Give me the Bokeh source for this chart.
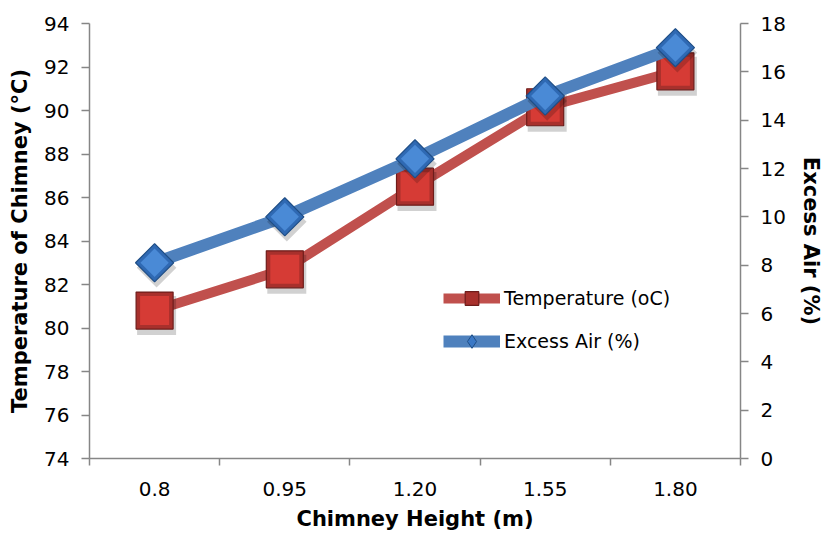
import numpy as np
from bokeh.plotting import figure
from bokeh.models import (Range1d, LinearAxis, FixedTicker, Legend, LegendItem,
                          ColumnDataSource)
from bokeh.embed import file_html
from bokeh.resources import INLINE

# Chimney height categories and measured series
categories = ["0.8", "0.95", "1.20", "1.55", "1.80"]
temperature = [80.8, 82.7, 86.5, 90.15, 91.8]      # °C, left axis
excess_air = [8.1, 10.0, 12.4, 15.0, 17.0]          # %, right axis
temp_ticks = list(range(74, 95, 2))
air_ticks = list(range(0, 19, 2))

FONT = "DejaVu Sans"
AXIS_GREY = "#868686"

W, H = 825, 533
p = figure(width=W, height=H, output_backend="svg", toolbar_location=None,
           x_range=Range1d(0, len(categories)), y_range=Range1d(74, 94),
           min_border_left=89, min_border_right=82, min_border_top=23,
           min_border_bottom=73)
p.extra_y_ranges = {"air": Range1d(0, 18)}
p.xaxis.visible = False
p.yaxis.visible = False
p.grid.visible = False
p.outline_line_color = None
p.background_fill_color = "white"
p.border_fill_color = "white"

x = np.arange(len(categories)) + 0.5
src = ColumnDataSource(dict(x=x, temp=temperature, air=excess_air))

# pixel -> data conversions for the marker drop shadow
px_left = (94 - 74) / 437.0
px_right = 18 / 437.0
px_x = len(categories) / 654.0

def style_axis(ax, title, ticks):
    ax.ticker = FixedTicker(ticks=ticks)
    ax.axis_label = title
    ax.axis_label_text_font = FONT
    ax.axis_label_text_font_style = "bold"
    ax.axis_label_text_font_size = "21px"
    ax.axis_label_text_color = "black"
    ax.major_label_text_font = FONT
    ax.major_label_text_font_size = "20px"
    ax.major_label_text_color = "black"
    ax.axis_line_color = AXIS_GREY
    ax.axis_line_width = 1.5
    ax.major_tick_line_color = AXIS_GREY
    ax.major_tick_line_width = 1.5
    ax.major_tick_in = 0
    ax.major_tick_out = 8
    ax.minor_tick_line_color = None

left = LinearAxis()
style_axis(left, "Temperature of Chimney (\u00b0C)", temp_ticks)
left.major_label_standoff = 12
left.axis_label_standoff = 9
p.add_layout(left, "left")

right = LinearAxis(y_range_name="air")
style_axis(right, "Excess Air (%)", air_ticks)
right.major_label_standoff = 12
right.axis_label_standoff = 10
p.add_layout(right, "right")

bottom = LinearAxis()
style_axis(bottom, "Chimney Height (m)", list(x))
bottom.ticker = FixedTicker(ticks=list(x), minor_ticks=list(range(len(categories) + 1)))
bottom.major_label_overrides = {float(v): c for v, c in zip(x, categories)}
bottom.major_tick_out = 0
bottom.major_tick_line_color = None
bottom.minor_tick_line_color = AXIS_GREY
bottom.minor_tick_line_width = 1.5
bottom.minor_tick_in = 0
bottom.minor_tick_out = 7
bottom.major_label_standoff = 16
bottom.axis_label_standoff = 8
p.add_layout(bottom, "below")

# --- Temperature series (red squares) ---
red_line = p.line("x", "temp", source=src, line_color="#C0504D", line_width=10)
p.scatter(x + 2 * px_x, np.array(temperature) - 5 * px_left, marker="square",
          size=39, fill_color="black", fill_alpha=0.18, line_color=None)
red_sq = p.scatter("x", "temp", source=src, marker="square", size=37,
                   fill_color="#A8302C", line_color="#6E1C1A", line_width=1.2)
p.scatter("x", "temp", source=src, marker="square", size=29,
          fill_color="#D63B35", line_color=None)

# --- Excess air series (blue diamonds), drawn on top ---
blue_line = p.line("x", "air", source=src, y_range_name="air",
                   line_color="#4F81BD", line_width=12)
# zero-size diamond: invisible in the plot, used only as the legend swatch
# (legends size markers from the swatch box and draw them unrotated)
blue_key = p.scatter("x", "air", source=src, y_range_name="air",
                     marker="diamond", size=0, fill_color="#3A78C6",
                     line_color="#1F4E86", line_width=1)
p.scatter(x + 2 * px_x, np.array(excess_air) - 5 * px_right, y_range_name="air",
          marker="square", angle=np.pi / 4, size=28, fill_color="black",
          fill_alpha=0.18, line_color=None)
p.scatter("x", "air", source=src, y_range_name="air", marker="square",
          angle=np.pi / 4, size=27, fill_color="#2F69B3",
          line_color="#1F4E86", line_width=1.2)
p.scatter("x", "air", source=src, y_range_name="air", marker="square",
          angle=np.pi / 4, size=20, fill_color="#4A8AD6", line_color=None)

legend = Legend(items=[
    LegendItem(label="Temperature (oC)", renderers=[red_line, red_sq]),
    LegendItem(label="Excess Air (%)", renderers=[blue_line, blue_key]),
], location=(354, 100), orientation="vertical")
legend.label_text_font = FONT
legend.label_text_font_size = "19px"
legend.label_text_color = "black"
legend.glyph_width = 57
legend.glyph_height = 34
legend.label_height = 34
legend.label_standoff = 4
legend.spacing = 9
legend.padding = 0
legend.margin = 0
legend.border_line_color = None
legend.background_fill_alpha = 0
p.add_layout(legend, "center")

open("out.html", "w").write(file_html(p, INLINE))
